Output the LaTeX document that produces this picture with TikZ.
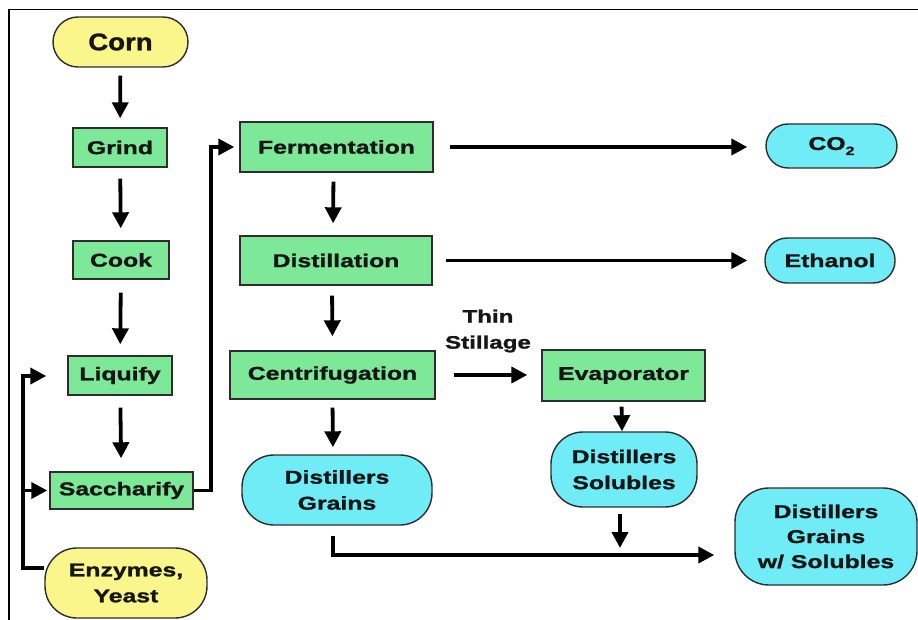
\documentclass[tikz,border=0pt]{standalone}
\usepackage{fontspec}
\newfontfamily\lab{Liberation Sans}[FakeStretch=1.34,BoldFeatures={FakeBold=1.3}]
\newfontfamily\labc{Liberation Sans}[FakeStretch=1.15,BoldFeatures={FakeBold=1.3}]
\usetikzlibrary{arrows.meta}
\definecolor{boxgreen}{RGB}{124,232,152}
\definecolor{boxcyan}{RGB}{112,236,246}
\definecolor{boxyellow}{RGB}{250,246,140}
\definecolor{edgegray}{RGB}{45,45,45}
\definecolor{txt}{RGB}{22,22,22}
\begin{document}
\begin{tikzpicture}[x=1pt,y=-1pt,
  base/.style={draw=edgegray,line width=1.4pt,inner sep=0pt,align=center,text=txt,
    font=\lab\bfseries\fontsize{18.5}{26}\selectfont},
  gbox/.style={base,fill=boxgreen},
  cbox/.style={base,fill=boxcyan},
  ybox/.style={base,fill=boxyellow},
  arr/.style={line width=3.8pt,-{Triangle[length=16pt,width=16pt]},shorten <=10pt,shorten >=10pt},
  plain/.style={line width=3.8pt},
  lbl/.style={inner sep=0pt,align=center,text=txt,font=\lab\bfseries\fontsize{18}{26}\selectfont}]
\useasboundingbox (0,0) rectangle (918,620);
\fill[white] (0,0) rectangle (918,620);
\draw[line width=1.6pt] (9,620) -- (9,9.5) -- (918,9.5);

% nodes
\node[ybox,rounded corners=25pt,minimum width=135pt,minimum height=50pt,
  font=\labc\bfseries\fontsize{24}{28}\selectfont] (corn) at (120.5,42) {Corn};
\node[gbox,minimum width=94pt,minimum height=39pt] (grind) at (120,147.5) {Grind};
\node[gbox,minimum width=96pt,minimum height=38pt] (cook) at (121,260) {Cook};
\node[gbox,minimum width=104pt,minimum height=39pt] (liq) at (120,375.5) {Liquify};
\node[gbox,minimum width=143pt,minimum height=37pt] (sac) at (121.5,490.5) {Saccharify};
\node[ybox,rounded corners=32pt,minimum width=162pt,minimum height=70pt] (enz) at (126,583) {Enzymes,\\Yeast};
\node[gbox,minimum width=193pt,minimum height=50pt] (fer) at (336.5,147) {Fermentation};
\node[gbox,minimum width=192pt,minimum height=49pt] (dis) at (336,260.5) {Distillation};
\node[gbox,minimum width=205pt,minimum height=48pt] (cen) at (332.5,375) {Centrifugation};
\node[cbox,rounded corners=32pt,minimum width=190pt,minimum height=70pt] (dg) at (337,490) {Distillers\\Grains};
\node[gbox,minimum width=163pt,minimum height=51pt] (eva) at (623.5,375.5) {Evaporator};
\node[cbox,rounded corners=32pt,minimum width=146pt,minimum height=75pt] (sol) at (624,469.5) {Distillers\\Solubles};
\node[cbox,rounded corners=22pt,minimum width=131pt,minimum height=44pt] (co2) at (831.5,146)
  {CO\raisebox{-5pt}{\fontsize{12}{12}\selectfont 2}};
\node[cbox,rounded corners=22pt,minimum width=130pt,minimum height=45pt] (eth) at (830,260.5) {Ethanol};
\node[cbox,rounded corners=34pt,minimum width=182pt,minimum height=97pt,
  font=\lab\bfseries\fontsize{18.5}{25}\selectfont] (dgws) at (826,536.5) {Distillers\\Grains\\w/ Solubles};
\node[lbl] (thin) at (488,331) {Thin\\Stillage};

% coordinates for junctions
\coordinate (busTop) at (23,376);
\coordinate (busSac) at (23,490.5);
\coordinate (busBot) at (23,568);
\coordinate (join) at (333,555);

% vertical chain
\draw[arr,shorten <=8pt,shorten >=9pt] (corn) -- (grind);
\draw[arr,shorten <=11pt,shorten >=12pt] (grind) -- (cook);
\draw[arr,shorten <=13pt,shorten >=11pt] (cook) -- (liq);
\draw[arr,shorten <=12pt,shorten >=13pt] (liq) -- (sac);
\draw[arr,shorten <=9pt,shorten >=12pt] ([xshift=-3pt]fer.south) -- ([xshift=-3pt]dis.north);
\draw[arr,shorten <=10pt,shorten >=14pt] ([xshift=-4pt]dis.south) -- ([xshift=0pt]cen.north);
\draw[arr,shorten <=8pt,shorten >=7pt] (cen.south) -- ([xshift=-4pt]dg.north);
\draw[arr,shorten <=5pt,shorten >=0pt] ([xshift=-2pt]eva.south) -- ([xshift=-2pt]sol.north);

% horizontal outputs
\draw[arr,shorten <=16pt,shorten >=18pt] (fer.east) -- (fer.east -| co2.west);
\draw[arr,shorten <=13pt,shorten >=17pt] (dis.east) -- (dis.east -| eth.west);
\draw[arr,shorten <=18pt,shorten >=14pt] (cen.east) -- (cen.east -| eva.west);

% saccharify to fermentation
\draw[arr,shorten <=0pt,shorten >=5pt] (sac.east) -- ++(17,0) |- (fer.west);

% enzymes loop
\draw[plain] ([yshift=15pt]enz.west) -- (busBot) -- (busTop);
\draw[arr,shorten <=-1.9pt,shorten >=21pt] (busTop) -- (liq.west |- busTop);
\draw[arr,shorten <=0pt,shorten >=2pt] (busSac) -- (sac.west);

% bottom merge
\draw[arr,shorten <=10pt,shorten >=20pt] ([xshift=-4pt]dg.south) |- ([yshift=-18.5pt]dgws.west);
\draw[arr,shorten <=6pt,shorten >=7pt] ([xshift=-4pt]sol.south) -- ([xshift=-4pt]sol.south |- join);
\end{tikzpicture}
\end{document}
